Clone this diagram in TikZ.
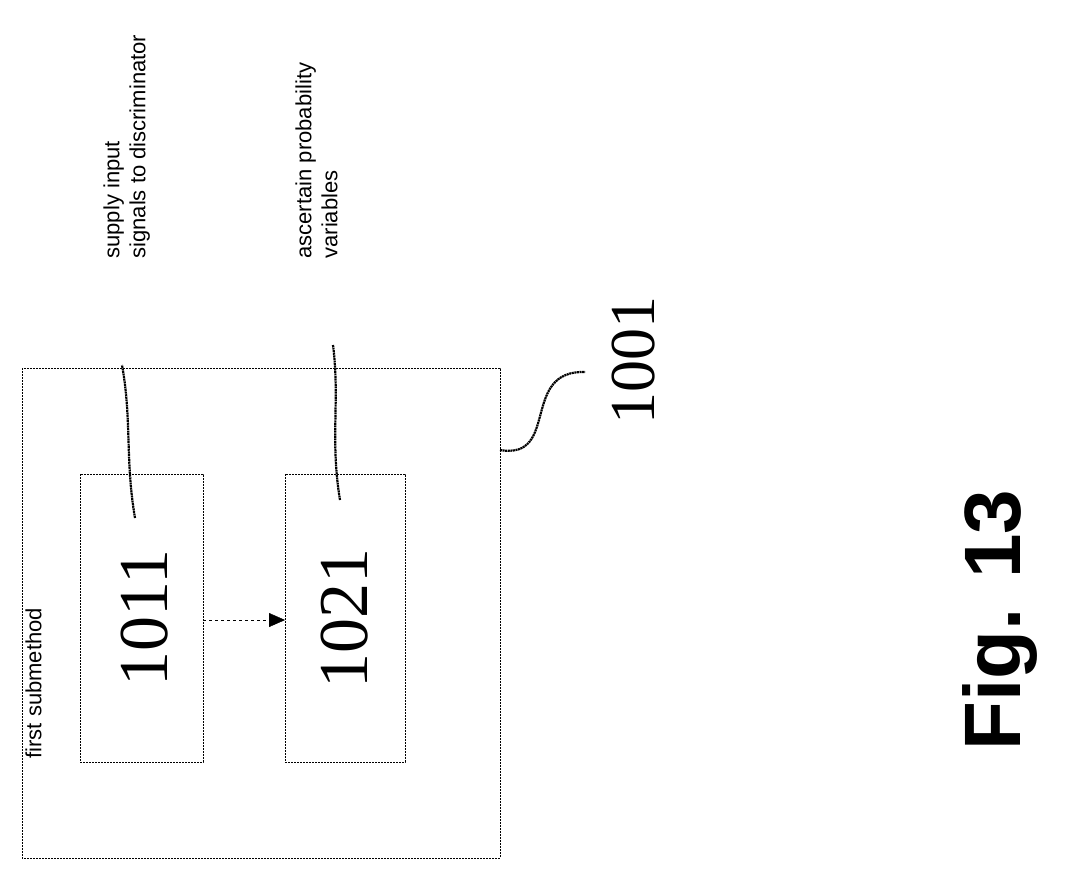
\documentclass[tikz,border=0pt]{standalone}
\usepackage{fontspec}
\setmainfont{Liberation Serif}
\newfontfamily\sans{Liberation Sans}
\usetikzlibrary{arrows.meta}
\begin{document}
\begin{tikzpicture}[x=1pt,y=-1pt,
  box/.style={draw,dash pattern=on 2pt off 1pt},
  lead/.style={draw,line width=2.2pt,dash pattern=on 2pt off 0.6pt},
  lbl/.style={rotate=90,anchor=north west,align=left,font=\sans\fontsize{22}{26}\selectfont}]
\useasboundingbox (0,0) rectangle (1068,879);
\draw[box] (22,368) rectangle (500,858);
\draw[box] (80,474) rectangle (203,762);
\draw[box] (285,474) rectangle (405,762);
\coordinate (ar) at (203,620); \coordinate (bl) at (285,620);
\node[rotate=90,font=\fontsize{70}{74}\selectfont] (t1) at (145,618) {1011};
\node[rotate=90,font=\fontsize{70}{74}\selectfont] (t2) at (345,618) {1021};
\draw[dashed,-{Triangle[width=14pt,length=16pt]}] (ar) -- (bl);
\node[lbl,anchor=south west] (fs) at (45,762) {first submethod};
\node[lbl] (s1) at (100,262) {supply input\\signals to discriminator};
\node[lbl] (s2) at (292,262) {ascertain probability\\variables};
\coordinate (l1a) at (135,518); \coordinate (l1b) at (122,365);
\coordinate (l2a) at (340,500); \coordinate (l2b) at (333,345);
\draw[lead] (l1a) .. controls (125,460) and (132,420) .. (l1b);
\draw[lead] (l2a) .. controls (330,440) and (340,400) .. (l2b);
\coordinate (c1) at (500,450); \coordinate (c2) at (585,372);
\draw[lead] (c1) .. controls (560,460) and (520,370) .. (c2);
\node[rotate=90,font=\fontsize{64}{68}\selectfont] (n1001) at (634,360) {1001};
\node[rotate=90,font=\sans\bfseries\fontsize{80}{90}\selectfont] (fig) at (1000,620) {Fig. 13};
\end{tikzpicture}
\end{document}
